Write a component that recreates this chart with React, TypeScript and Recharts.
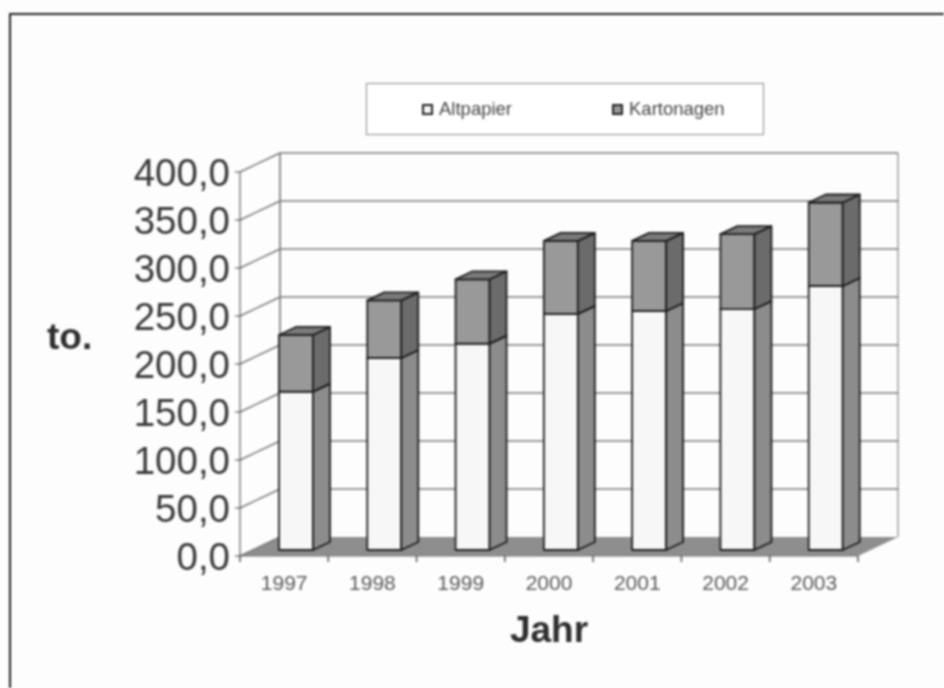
import { Bar, BarChart, CartesianGrid, Legend, XAxis, YAxis } from 'recharts'

const years = ['1997', '1998', '1999', '2000', '2001', '2002', '2003']
const altpapier = [165, 200, 215, 246, 249, 251, 275]
const kartonagen = [59, 60, 67, 76, 73, 78, 87]
const yTicks = [0, 50, 100, 150, 200, 250, 300, 350, 400]

const data = years.map((year, i) => ({
  year,
  Altpapier: altpapier[i],
  Kartonagen: kartonagen[i],
}))

// fake 3D: depth of the walls, and of the bars standing in the middle of the floor
const WALL_X = 40
const WALL_Y = 19
const BAR_SHIFT_X = 12
const BAR_SHIFT_Y = 6
const DEPTH_X = 17
const DEPTH_Y = 8
const PLOT_BOTTOM = 556

function Box({ x, y, width, height, fill, side, top }: any) {
  const left = x + BAR_SHIFT_X
  const right = left + width
  const up = y - BAR_SHIFT_Y
  const down = up + height
  const edge = { stroke: '#1e1e1e', strokeWidth: 1.8, strokeLinejoin: 'round' as const }
  return (
    <g>
      <rect x={left} y={up} width={width} height={height} fill={fill} {...edge} />
      <polygon
        points={`${right},${up} ${right + DEPTH_X},${up - DEPTH_Y} ${right + DEPTH_X},${down - DEPTH_Y} ${right},${down}`}
        fill={side}
        {...edge}
      />
      <polygon
        points={`${left},${up} ${left + DEPTH_X},${up - DEPTH_Y} ${right + DEPTH_X},${up - DEPTH_Y} ${right},${up}`}
        fill={top}
        {...edge}
      />
    </g>
  )
}

function WallLine({ x1, x2, y1 }: any) {
  const isFloor = y1 >= PLOT_BOTTOM - 1
  const backY = y1 - WALL_Y
  return (
    <g>
      {isFloor && (
        <polygon
          points={`${x1},${y1} ${x1 + WALL_X},${backY} ${x2 + WALL_X},${backY} ${x2},${y1}`}
          fill="#8e8e8e"
        />
      )}
      {isFloor && (
        <line x1={x1 + WALL_X} x2={x1 + WALL_X} y1={backY} y2={172 - WALL_Y} stroke="#909090" strokeWidth={2} />
      )}
      {isFloor && (
        <line x1={x2 + WALL_X} x2={x2 + WALL_X} y1={backY} y2={172 - WALL_Y} stroke="#b4b4b4" strokeWidth={2} />
      )}
      <line x1={x1} x2={x1 + WALL_X} y1={y1} y2={backY} stroke="#777" strokeWidth={1.5} />
      {!isFloor && (
        <line x1={x1 + WALL_X} x2={x2 + WALL_X} y1={backY} y2={backY} stroke="#777" strokeWidth={1.5} />
      )}
    </g>
  )
}

function YearTick({ x, y, payload, index }: any) {
  const half = payload.offset || 44
  return (
    <g>
      <line x1={x - half} x2={x - half} y1={y} y2={y + 6} stroke="#555" strokeWidth={1.5} />
      {index === years.length - 1 && (
        <line x1={x + half} x2={x + half} y1={y} y2={y + 6} stroke="#555" strokeWidth={1.5} />
      )}
      <text x={x} y={y + 34} textAnchor="middle" fontSize={21} fill="#5a5a5a">
        {payload.value}
      </text>
    </g>
  )
}

function LegendBox({ payload }: any) {
  const lefts = [55, 245]
  return (
    <div style={{ position: 'relative', width: 396, height: 50, border: '1.5px solid #888', background: '#fff' }}>
      {(payload || []).map((p: any, i: number) => (
        <div key={p.value} style={{ position: 'absolute', left: lefts[i], top: 14, display: 'flex', alignItems: 'center', color: '#444', fontSize: 18.5 }}>
          <span style={{ width: 7, height: 7, border: '2px solid #222', background: p.color, marginRight: 6 }} />
          {p.value}
        </div>
      ))}
    </div>
  )
}

export default function App() {
  return (
    <div style={{ position: 'absolute', left: 0, top: 0, width: 944, height: 688, background: '#fdfdfd', overflow: 'hidden', fontFamily: '"Liberation Sans", Arial, sans-serif', filter: 'blur(0.8px)' }}>
      <div style={{ position: 'absolute', left: 9, top: 13, width: 935, height: 675, borderLeft: '2px solid #222', borderTop: '2px solid #222' }} />
      <div style={{ position: 'absolute', left: 0, top: 0 }}>
        <BarChart
          width={944}
          height={688}
          data={data}
          margin={{ top: 172, right: 86, bottom: 0, left: 0 }}
          barSize={34}
          style={{ fontFamily: '"Liberation Sans", Arial, sans-serif' }}
        >
          <CartesianGrid vertical={false} horizontal={(props: any) => <WallLine key={props.key} {...props} />} />
          <XAxis
            dataKey="year"
            height={132}
            interval={0}
            stroke="#777"
            tickLine={false}
            tickSize={0}
            tickMargin={0}
            tick={YearTick}
            label={{ value: 'Jahr', position: 'insideBottom', offset: 46, fontSize: 37, fontWeight: 'bold', fill: '#2e2e2e' }}
          />
          <YAxis
            type="number"
            width={240}
            domain={[0, 400]}
            ticks={yTicks}
            interval={0}
            stroke="#444"
            tickSize={5}
            tickMargin={5}
            tick={{ fontSize: 38.5, fill: '#3a3a3a' }}
            tickFormatter={(v: number) => v.toFixed(1).replace('.', ',')}
            label={{ value: 'to.', position: 'insideLeft', offset: 47, dy: -28, fontSize: 37, fontWeight: 'bold', fill: '#2e2e2e' }}
          />
          <Legend
            verticalAlign="middle"
            layout="horizontal"
            wrapperStyle={{ left: 366, top: 83, width: 400 }}
            content={LegendBox}
          />
          <Bar
            dataKey="Altpapier"
            stackId="a"
            fill="#f7f7f7"
            isAnimationActive={false}
            shape={(p: any) => <Box {...p} side="#8c8c8c" top="#8c8c8c" />}
          />
          <Bar
            dataKey="Kartonagen"
            stackId="a"
            fill="#999999"
            isAnimationActive={false}
            shape={(p: any) => <Box {...p} side="#6b6b6b" top="#7a7a7a" />}
          />
        </BarChart>
      </div>
    </div>
  )
}
